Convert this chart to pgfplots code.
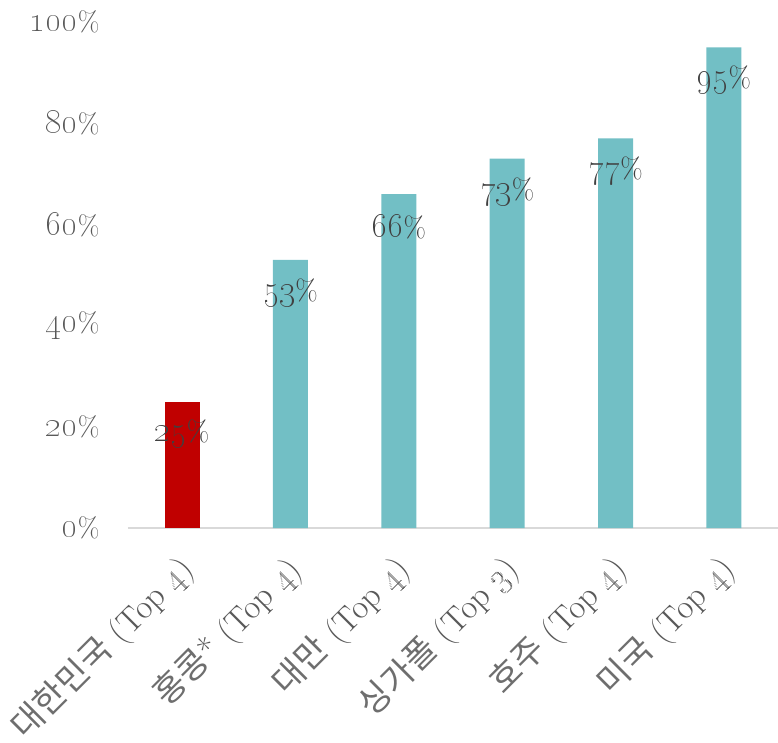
\documentclass[border=0pt]{standalone}
\usepackage{fontspec}
\newfontfamily\kr{Noto Sans CJK KR}
\usepackage{pgfplots}
\pgfplotsset{compat=1.18}
\definecolor{barred}{HTML}{C00000}
\definecolor{barteal}{HTML}{72BFC5}
\definecolor{txtgray}{HTML}{595959}
\definecolor{krgray}{HTML}{6E6E6E}
\definecolor{lblgray}{HTML}{404040}
\definecolor{axgray}{HTML}{D9D9D9}
\newcommand{\osn}[2]{{\fontencoding{TS1}\fontfamily{lmr}\fontsize{#1}{#1}\selectfont #2}}
\newcommand{\K}[1]{{\kr\color{krgray}#1}}
\newcommand{\xd}[1]{\osn{38bp}{#1}}
\newcommand{\yd}[1]{\osn{36bp}{#1}\%}
\begin{document}
\begin{tikzpicture}
\path[use as bounding box] (-128bp,-215bp) rectangle (650bp,528bp);
\begin{axis}[
  at={(0,0)}, anchor=south west,
  scale only axis,
  width=650bp, height=506bp,
  xmin=-0.5, xmax=5.5,
  ymin=0, ymax=100,
  axis x line*=bottom,
  axis y line*=left,
  y axis line style={draw=none},
  x axis line style={draw=axgray, line width=1.5bp, -},
  xtick={0,1,2,3,4,5},
  xticklabels={{\K{대한민국} (Top \xd{4})},{\K{홍콩}* (Top \xd{4})},{\K{대만} (Top \xd{4})},{\K{싱가폴} (Top \xd{3})},{\K{호주} (Top \xd{4})},{\K{미국} (Top \xd{4})}},
  xticklabel style={xshift=8bp, yshift=-34bp, rotate=45, anchor=east, font=\fontsize{34bp}{38bp}\selectfont, text=txtgray},
  ytick={0,20,40,60,80,100},
  yticklabels={\yd{0},\yd{20},\yd{40},\yd{60},\yd{80},\yd{100}},
  yticklabel style={font=\fontsize{28bp}{32bp}\selectfont, text=txtgray, xshift=-25bp},
  major tick length=0pt,
  ybar, bar width=35bp, bar shift=0pt,
  nodes near coords={\osn{38bp}{\pgfmathprintnumber[assume math mode=true]{\pgfplotspointmeta}}\%},
  nodes near coords style={font=\fontsize{29bp}{34bp}\selectfont, text=lblgray, anchor=center, yshift=-33bp},
  clip=false,
]
\addplot[fill=barred, draw=none] coordinates {(0,25)};
\addplot[fill=barteal, draw=none] coordinates {(1,53) (2,66) (3,73) (4,77) (5,95)};
\end{axis}
\end{tikzpicture}
\end{document}
